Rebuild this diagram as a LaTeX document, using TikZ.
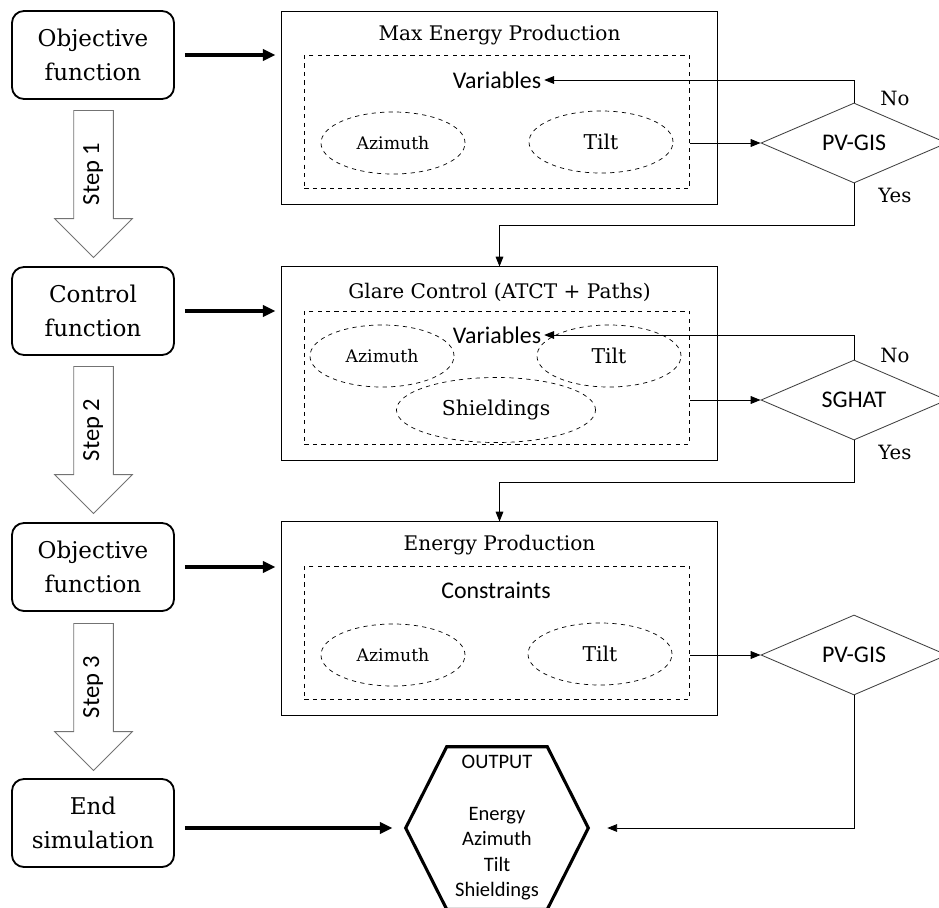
\documentclass[tikz,border=0pt]{standalone}
\usepackage{fontspec}
\setmainfont{DejaVu Serif}
\newfontfamily\calibri{Carlito}
\usetikzlibrary{positioning,shapes.geometric,shapes.arrows,arrows.meta}

\begin{document}
\begin{tikzpicture}[x=0.025cm,y=-0.025cm,
    funbox/.style={draw,rounded corners=0.3cm,line width=1.3pt,minimum width=4.05cm,minimum height=2.2cm,align=center,font=\fontsize{16.4}{24}\selectfont},
    mainbox/.style={draw,line width=0.7pt,minimum width=10.875cm,minimum height=4.825cm},
    innerbox/.style={draw,dashed,line width=0.6pt,minimum width=9.625cm,minimum height=3.325cm},
    oval/.style={ellipse,draw,dashed,line width=0.5pt,minimum width=3.6cm,minimum height=1.55cm,inner sep=0pt},
    decision/.style={diamond,draw=black!75,line width=0.6pt,aspect=2.3,minimum width=4.65cm,minimum height=2cm,inner sep=0pt,font=\calibri\fontsize{17}{20}\selectfont},
    steparrow/.style={single arrow,draw=black!55,line width=0.6pt,rotate=90,shape border rotate=180,minimum height=3.675cm,minimum width=1.925cm,single arrow head extend=0.475cm,inner xsep=1pt,inner ysep=6.8pt,text height=11pt,text depth=3pt,font=\calibri\fontsize{17.5}{20}\selectfont},
    titletxt/.style={font=\fontsize{14.3}{17}\selectfont},
    vartxt/.style={inner sep=2pt,font=\calibri\fontsize{17}{20}\selectfont},
    aztxt/.style={font=\fontsize{12.3}{15}\selectfont},
    tilttxt/.style={font=\fontsize{14.5}{17}\selectfont},
    yn/.style={inner sep=0pt,font=\fontsize{14}{17}\selectfont},
    bigarrow/.style={line width=2.2pt,-{Triangle[length=9pt,width=8pt]},shorten <=0.25cm,shorten >=0.15cm},
    thinarrow/.style={line width=0.6pt,-{Triangle[length=7pt,width=5.5pt]}}
    ]

    \useasboundingbox (0,0) rectangle (939,907);

    % left column
    \node(lf1) [funbox] at (93,55) {Objective\\function};
    \node(lf2) [funbox] at (93,311) {Control\\function};
    \node(lf3) [funbox] at (93,567) {Objective\\function};
    \node(lf4) [funbox] at (93,823) {End\\simulation};

    \node(st1) [steparrow,anchor=tail] at (93.5,110) {Step 1};
    \node(st2) [steparrow,anchor=tail] at (93.5,366) {Step 2};
    \node(st3) [steparrow,anchor=tail] at (93.5,623) {Step 3};

    % step 1 block
    \node(mb1) [mainbox] at (499.5,108) {};
    \node(in1) [innerbox] at (497,122) {};
    \node(t1) [titletxt] at (499.5,35) {Max Energy Production};
    \node(var1) [vartxt] at (497,80) {Variables};
    \node(az1) [oval,aztxt] at (393,143) {Azimuth};
    \node(tl1) [oval,tilttxt] at (601,142) {Tilt};

    % step 2 block
    \node(mb2) [mainbox] at (499.5,363.5) {};
    \node(in2) [innerbox] at (497,377.5) {};
    \node(t2) [titletxt] at (499.5,292) {Glare Control (ATCT + Paths)};
    \node(az2) [oval,aztxt] at (382,356) {Azimuth};
    \node(tl2) [oval,tilttxt] at (609,356) {Tilt};
    \node(sh2) [oval,tilttxt,minimum width=4.975cm,minimum height=1.625cm] at (496,410) {Shieldings};
    \node(var2) [vartxt] at (497,335) {Variables};

    % step 3 block
    \node(mb3) [mainbox] at (499.5,618.5) {};
    \node(in3) [innerbox] at (497,632.5) {};
    \node(t3) [titletxt] at (499.5,545) {Energy Production};
    \node(con3) [vartxt] at (496,590) {Constraints};
    \node(az3) [oval,aztxt] at (393,655) {Azimuth};
    \node(tl3) [oval,tilttxt] at (600,654) {Tilt};

    % checks
    \node(d1) [decision] at (854,143) {PV-GIS};
    \node(d2) [decision] at (854,400) {SGHAT};
    \node(d3) [decision] at (854,655) {PV-GIS};

    \node(no1) [yn,right=0.65cm of d1.north,yshift=3pt] {No};
    \node(yes1) [yn,right=0.6cm of d1.south,yshift=-8.5pt] {Yes};
    \node(no2) [yn,right=0.65cm of d2.north,yshift=3pt] {No};
    \node(yes2) [yn,right=0.6cm of d2.south,yshift=-8.5pt] {Yes};

    % output
    \node(out) [minimum width=4.55cm,minimum height=4.05cm,align=center,font=\calibri\fontsize{14.6}{18.2}\selectfont] at (497,828) {OUTPUT\\\mbox{}\\Energy\\Azimuth\\Tilt\\Shieldings};
    \draw[line width=2.2pt,line join=miter] (out.west) -- ([xshift=1.025cm]out.north west) -- ([xshift=-1.025cm]out.north east)
        -- (out.east) -- ([xshift=-1.025cm]out.south east) -- ([xshift=1.025cm]out.south west) -- cycle;

    \foreach \i in {1,2,3} {
        \draw[bigarrow] (lf\i.east) -- (lf\i.east -| mb\i.west);
        \draw[thinarrow] (in\i.east |- d\i.west) -- (d\i.west);
    }
    \draw[bigarrow,shorten >=0.33cm] (lf4.east |- out.west) -- (out.west);

    \coordinate(y1) at (854,225);
    \coordinate(y2) at (854,482);
    \draw[thinarrow] (d1.north) |- (var1.east);
    \draw[thinarrow] (d2.north) |- (var2.east);
    \draw[thinarrow] (d1.south) -- (y1) -| (mb2.north);
    \draw[thinarrow] (d2.south) -- (y2) -| (mb3.north);
    \draw[thinarrow,shorten >=0.475cm] (d3.south) |- (out.east);

\end{tikzpicture}
\end{document}
